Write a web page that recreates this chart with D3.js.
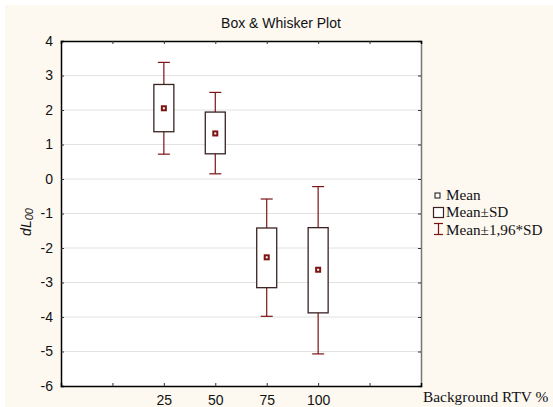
<!DOCTYPE html>
<html>
<head>
<meta charset="utf-8">
<script src="https://cdn.jsdelivr.net/npm/d3@7"></script>
<style>
  body { margin: 0; background: #fff; }
  svg { display: block; }
</style>
</head>
<body>
<div id="chart"></div>
<script>
// values
var groups = [25, 50, 75, 100];
var means = [2.05, 1.32, -2.27, -2.63];
var sdLow = [1.37, 0.73, -3.15, -3.88];
var sdHigh = [2.74, 1.94, -1.42, -1.41];
var ciLow = [0.72, 0.15, -3.98, -5.07];
var ciHigh = [3.38, 2.51, -0.58, -0.22];
var yTicks = [-6, -5, -4, -3, -2, -1, 0, 1, 2, 3, 4];
var xTicks = [0, 25, 50, 75, 100, 125];
var xLabels = ['', '25', '50', '75', '100', ''];
var legendItems = ['Mean', 'Mean\u00b1SD', 'Mean\u00b11,96*SD'];

var W = 553, H = 407;
var M = { left: 61, right: 421, top: 41, bottom: 386 };
var RED = '#7d1414', BOX = '#3a2222';

var svg = d3.select('#chart').append('svg').attr('width', W).attr('height', H);

svg.append('rect').attr('x', 5).attr('y', 5).attr('width', W - 5).attr('height', H - 5).attr('fill', '#fdf9f1');
svg.append('rect').attr('x', M.left).attr('y', M.top)
	.attr('width', M.right - M.left).attr('height', M.bottom - M.top).attr('fill', '#fff');

var x = d3.scaleLinear().domain([-25, 150]).range([M.left, M.right]);
var y = d3.scaleLinear().domain([-6, 4]).range([M.bottom, M.top]);

// grid
svg.append('g').selectAll('line').data(yTicks.slice(1, -1)).join('line')
	.attr('x1', M.left).attr('x2', M.right)
	.attr('y1', d => y(d)).attr('y2', d => y(d))
	.attr('stroke', '#e2e2e2').attr('stroke-width', 1);

// axes
var fontSans = 'Arial, "Liberation Sans", sans-serif';
var fontSerif = '"Times New Roman", "Liberation Serif", serif';

var axLeft = svg.append('g').attr('transform', 'translate(' + M.left + ',0)')
	.call(d3.axisLeft(y).tickValues(yTicks).tickSize(-3).tickPadding(8).tickFormat(d => String(d)));
var axRight = svg.append('g').attr('transform', 'translate(' + M.right + ',0)')
	.call(d3.axisRight(y).tickValues(yTicks).tickSize(-3).tickFormat(''));
var axBottom = svg.append('g').attr('transform', 'translate(0,' + M.bottom + ')')
	.call(d3.axisBottom(x).tickValues(xTicks).tickSize(-3).tickPadding(9).tickFormat((d, i) => xLabels[i]));
var axTop = svg.append('g').attr('transform', 'translate(0,' + M.top + ')')
	.call(d3.axisTop(x).tickValues(xTicks).tickSize(-3).tickFormat(''));

[axLeft, axRight, axBottom, axTop].forEach(g => {
	g.select('.domain').attr('stroke', '#000').attr('stroke-width', 1.5);
	g.selectAll('.tick line').attr('stroke', '#333');
	g.selectAll('text').attr('font-family', fontSans).attr('font-size', 14).attr('fill', '#111');
});
axRight.select('.domain').attr('stroke', '#777');

// boxes
var boxW = 20, capW = 12, mk = 6;
var idx = d3.range(groups.length);
var plot = svg.append('g');

plot.selectAll('.whisker').data(idx).join('line')
	.attr('x1', i => x(groups[i])).attr('x2', i => x(groups[i]))
	.attr('y1', i => y(ciLow[i])).attr('y2', i => y(ciHigh[i]))
	.attr('stroke', RED).attr('stroke-width', 1.2);
plot.selectAll('.capHi').data(idx).join('line')
	.attr('x1', i => x(groups[i]) - capW / 2).attr('x2', i => x(groups[i]) + capW / 2)
	.attr('y1', i => y(ciHigh[i])).attr('y2', i => y(ciHigh[i]))
	.attr('stroke', RED).attr('stroke-width', 1.2);
plot.selectAll('.capLo').data(idx).join('line')
	.attr('x1', i => x(groups[i]) - capW / 2).attr('x2', i => x(groups[i]) + capW / 2)
	.attr('y1', i => y(ciLow[i])).attr('y2', i => y(ciLow[i]))
	.attr('stroke', RED).attr('stroke-width', 1.2);
plot.selectAll('.box').data(idx).join('rect')
	.attr('x', i => x(groups[i]) - boxW / 2).attr('width', boxW)
	.attr('y', i => y(sdHigh[i])).attr('height', i => y(sdLow[i]) - y(sdHigh[i]))
	.attr('fill', '#fff').attr('stroke', BOX).attr('stroke-width', 1.3);
plot.selectAll('.mean').data(idx).join('rect')
	.attr('x', i => x(groups[i]) - mk / 2).attr('y', i => y(means[i]) - mk / 2)
	.attr('width', mk).attr('height', mk).attr('fill', RED);
plot.selectAll('.meanDot').data(idx).join('rect')
	.attr('x', i => x(groups[i]) - 1).attr('y', i => y(means[i]) - 1)
	.attr('width', 2).attr('height', 2).attr('fill', '#fff');

// titles
svg.append('text').attr('x', 281).attr('y', 28).attr('text-anchor', 'middle')
	.attr('font-family', fontSans).attr('font-size', 14).attr('fill', '#111')
	.text('Box & Whisker Plot');

var yl = svg.append('text').attr('transform', 'translate(31,' + 222 + ') rotate(-90)')
	.attr('text-anchor', 'middle').attr('font-family', fontSans).attr('font-style', 'italic')
	.attr('font-size', 14).attr('fill', '#111');
yl.append('tspan').text('dL');
yl.append('tspan').attr('font-size', 11).attr('dy', 2).text('00');

svg.append('text').attr('x', 423).attr('y', 402)
	.attr('font-family', fontSerif).attr('font-size', 15.4).attr('fill', '#111')
	.text('Background RTV %');

// legend
var lg = svg.append('g').attr('font-family', fontSerif).attr('font-size', 15.2).attr('fill', '#111');
var ly = [200, 217, 235];
lg.selectAll('text').data(legendItems).join('text')
	.attr('x', 446).attr('y', (d, i) => ly[i]).text(d => d);
lg.append('rect').attr('x', 435).attr('y', 193).attr('width', 5).attr('height', 5)
	.attr('fill', '#fff').attr('stroke', '#111').attr('stroke-width', 1);
lg.append('rect').attr('x', 433.5).attr('y', 207.5).attr('width', 10).attr('height', 10)
	.attr('fill', '#fff').attr('stroke', BOX).attr('stroke-width', 1.2);
var ib = lg.append('g').attr('stroke', RED).attr('stroke-width', 1.2);
ib.append('line').attr('x1', 434).attr('x2', 443).attr('y1', 223.5).attr('y2', 223.5);
ib.append('line').attr('x1', 434).attr('x2', 443).attr('y1', 234.5).attr('y2', 234.5);
ib.append('line').attr('x1', 438.5).attr('x2', 438.5).attr('y1', 223.5).attr('y2', 234.5);
</script>
</body>
</html>
